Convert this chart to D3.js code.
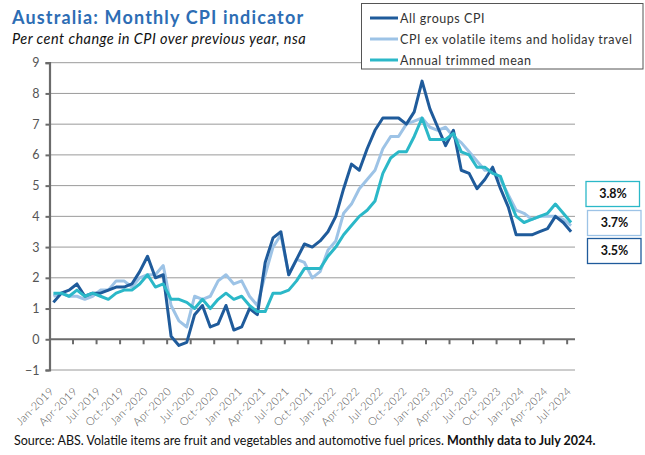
<!DOCTYPE html>
<html><head><meta charset="utf-8">
<script src="https://cdn.jsdelivr.net/npm/d3@7"></script>
<style>
html,body{margin:0;padding:0;background:#fff;}
svg{display:block;}
text{font-family:Lato,"Open Sans",sans-serif;}
</style></head>
<body>
<svg id="chart" width="645" height="455"></svg>
<script>
const categories = [
"Jan-2019","Feb-2019","Mar-2019","Apr-2019","May-2019","Jun-2019","Jul-2019","Aug-2019","Sep-2019","Oct-2019","Nov-2019","Dec-2019",
"Jan-2020","Feb-2020","Mar-2020","Apr-2020","May-2020","Jun-2020","Jul-2020","Aug-2020","Sep-2020","Oct-2020","Nov-2020","Dec-2020",
"Jan-2021","Feb-2021","Mar-2021","Apr-2021","May-2021","Jun-2021","Jul-2021","Aug-2021","Sep-2021","Oct-2021","Nov-2021","Dec-2021",
"Jan-2022","Feb-2022","Mar-2022","Apr-2022","May-2022","Jun-2022","Jul-2022","Aug-2022","Sep-2022","Oct-2022","Nov-2022","Dec-2022",
"Jan-2023","Feb-2023","Mar-2023","Apr-2023","May-2023","Jun-2023","Jul-2023","Aug-2023","Sep-2023","Oct-2023","Nov-2023","Dec-2023",
"Jan-2024","Feb-2024","Mar-2024","Apr-2024","May-2024","Jun-2024","Jul-2024"];

const allGroups = [
1.2,1.5,1.6,1.8,1.4,1.5,1.5,1.6,1.7,1.7,1.8,2.2,
2.7,2.0,2.1,0.1,-0.2,-0.1,0.8,1.1,0.4,0.5,1.1,0.3,
0.4,1.0,0.8,2.5,3.3,3.5,2.1,2.6,3.1,3.0,3.2,3.5,
4.0,4.9,5.7,5.5,6.2,6.8,7.2,7.2,7.2,7.0,7.4,8.4,
7.5,6.9,6.3,6.8,5.5,5.4,4.9,5.2,5.6,4.9,4.3,3.4,
3.4,3.4,3.5,3.6,4.0,3.8,3.5];

const exVolatile = [
1.4,1.5,1.4,1.4,1.3,1.4,1.6,1.6,1.9,1.9,1.7,2.0,
2.1,2.1,2.4,1.1,0.6,0.4,1.4,1.3,1.4,1.9,2.1,1.8,
1.9,1.4,1.1,2.1,3.0,3.4,2.1,2.6,2.5,2.0,2.2,2.9,
3.2,4.1,4.4,4.9,5.2,5.5,6.2,6.6,6.6,7.0,7.1,7.2,
6.9,6.8,6.9,6.6,6.4,6.1,5.8,5.5,5.5,5.2,4.7,4.2,
4.1,3.9,4.0,4.0,4.0,3.9,3.7];

const trimmedMean = [
1.5,1.5,1.4,1.6,1.4,1.5,1.4,1.3,1.5,1.6,1.6,1.8,
2.1,1.7,1.8,1.3,1.3,1.2,1.0,1.3,1.0,1.3,1.5,1.3,
1.4,1.1,0.9,0.9,1.5,1.5,1.6,1.9,2.3,2.3,2.3,2.7,
3.0,3.4,3.7,4.0,4.2,4.5,5.4,5.9,6.1,6.1,6.6,7.2,
6.5,6.5,6.5,6.7,6.1,6.0,5.6,5.6,5.4,5.3,4.6,4.0,
3.8,3.9,4.0,4.1,4.4,4.1,3.8];

const tickLabels = ["Jan-2019","Apr-2019","Jul-2019","Oct-2019","Jan-2020","Apr-2020","Jul-2020","Oct-2020",
"Jan-2021","Apr-2021","Jul-2021","Oct-2021","Jan-2022","Apr-2022","Jul-2022","Oct-2022",
"Jan-2023","Apr-2023","Jul-2023","Oct-2023","Jan-2024","Apr-2024","Jul-2024"];

const yTicks = [-1,0,1,2,3,4,5,6,7,8,9];

const seriesNames = ["All groups CPI","CPI ex volatile items and holiday travel","Annual trimmed mean"];
const seriesColors = ["#1f5b9b","#9dc3e6","#2bb8c8"];
const latestLabels = ["3.8%","3.7%","3.5%"];

const svg = d3.select("#chart");
const x = d3.scaleBand().domain(categories).range([49.5, 575]).padding(0);
const y = d3.scaleLinear().domain([-1, 9]).range([370, 62.7]);
const cx = c => x(c) + x.bandwidth() / 2;

// gridlines
svg.append("g").selectAll("line").data(yTicks.filter(d => d !== 0)).join("line")
  .attr("x1", 49.5).attr("x2", 575)
  .attr("y1", d => y(d)).attr("y2", d => y(d))
  .attr("stroke", "#9a9a9a").attr("stroke-width", 1);

// y axis
const yAxis = d3.axisLeft(y).tickValues(yTicks).tickSize(4).tickPadding(6).tickFormat(d3.format("d"));
const gy = svg.append("g").attr("transform", "translate(49.5,0)").call(yAxis);
gy.select(".domain").attr("stroke", "#6b6b6b").attr("stroke-width", 2.2);
gy.selectAll(".tick line").attr("stroke", "#6b6b6b").attr("stroke-width", 2);
gy.selectAll(".tick text").attr("fill", "#555").attr("font-size", 12.5).attr("font-family", "Lato, sans-serif");

// zero line (x axis)
svg.append("line").attr("x1", 49.5).attr("x2", 575).attr("y1", y(0)).attr("y2", y(0))
  .attr("stroke", "#6b6b6b").attr("stroke-width", 2.2);
// x ticks at boundaries every 3 months
const tickCats = categories.filter((c, i) => i > 0 && i % 3 === 0);
svg.append("g").selectAll("line").data(tickCats).join("line")
  .attr("x1", d => x(d)).attr("x2", d => x(d))
  .attr("y1", y(0)).attr("y2", y(0) + 5)
  .attr("stroke", "#6b6b6b").attr("stroke-width", 2);

// x labels
svg.append("g").selectAll("text").data(tickLabels).join("text")
  .attr("transform", d => `translate(${cx(d) + 1},${392}) rotate(-45)`)
  .attr("text-anchor", "end")
  .attr("font-size", 11).attr("font-weight", 300).attr("fill", "#555")
  .attr("letter-spacing", 0.3)
  .text(d => d);

// lines
const line = d3.line().x((d, i) => cx(categories[i])).y(d => y(d));
const series = [allGroups, exVolatile, trimmedMean];
[1, 0, 2].forEach(k => {
  svg.append("path").datum(series[k])
    .attr("d", line).attr("fill", "none")
    .attr("stroke", seriesColors[k]).attr("stroke-width", 3)
    .attr("stroke-linejoin", "round");
});

// legend
const lg = svg.append("g");
lg.append("rect").attr("x", 361.5).attr("y", 3.5).attr("width", 281.5).attr("height", 65.5)
  .attr("fill", "#fff").attr("stroke", "#555").attr("stroke-width", 1);
seriesNames.forEach((n, k) => {
  const ly = 18 + k * 21;
  lg.append("line").attr("x1", 370).attr("x2", 398).attr("y1", ly).attr("y2", ly)
    .attr("stroke", seriesColors[k]).attr("stroke-width", 3);
  lg.append("text").attr("x", 400).attr("y", ly + 4.5).attr("font-size", 12.5)
    .attr("letter-spacing", 0.55).attr("fill", "#333").text(n);
});

// latest value boxes
const boxes = [
  {t: latestLabels[0], c: seriesColors[2], y0: 181.5, x0: 586},
  {t: latestLabels[1], c: seriesColors[1], y0: 210.5, x0: 587.5},
  {t: latestLabels[2], c: seriesColors[0], y0: 238.5, x0: 587.5}
];
boxes.forEach(b => {
  svg.append("rect").attr("x", b.x0).attr("y", b.y0).attr("width", 53.5).attr("height", 25)
    .attr("fill", "#fff").attr("stroke", b.c).attr("stroke-width", 1.3);
  svg.append("text").attr("x", b.x0 + 27).attr("y", b.y0 + 16.5).attr("text-anchor", "middle")
    .attr("font-family", "'Liberation Serif', serif").attr("font-weight", "bold").attr("font-size", 12.5)
    .attr("fill", "#111").text(b.t);
});

// titles
svg.append("text").attr("x", 12).attr("y", 24).attr("font-size", 18).attr("font-weight", "bold")
  .attr("letter-spacing", 1.15).attr("fill", "#2d6db4").text("Australia: Monthly CPI indicator");
svg.append("text").attr("x", 12).attr("y", 44).attr("font-size", 14.5).attr("font-style", "italic")
  .attr("letter-spacing", 0.45).attr("fill", "#111").text("Per cent change in CPI over previous year, nsa");

// source
const src = svg.append("text").attr("x", 14).attr("y", 445).attr("font-size", 12.5).attr("fill", "#111");
src.append("tspan").text("Source: ABS. Volatile items are fruit and vegetables and automotive fuel prices.  ");
src.append("tspan").attr("font-weight", "bold").text("Monthly data to July 2024.");
</script>
</body></html>
